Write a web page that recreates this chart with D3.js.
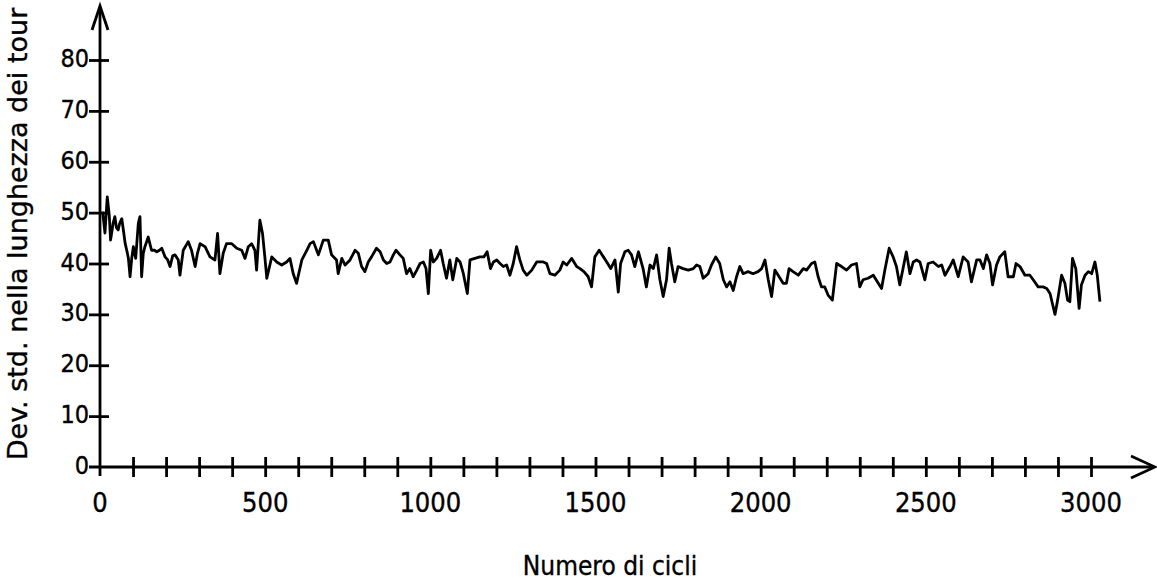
<!DOCTYPE html>
<html>
<head>
<meta charset="utf-8">
<script src="https://cdn.jsdelivr.net/npm/d3@7"></script>
<style>
  html, body { margin: 0; padding: 0; background: #fff; }
  svg { display: block; }
  .lbl { font-family: "Liberation Sans Narrow", "DejaVu Sans Condensed", "Liberation Sans", sans-serif; fill: #000; stroke: #000; stroke-width: 0.35; }
  .ytitle { font-family: "DejaVu Sans", sans-serif; fill: #000; stroke: #000; stroke-width: 0.35; }
</style>
</head>
<body>
<svg id="chart" width="1157" height="583"></svg>
<script>
// ---- data ----
const cycles = [
  8, 15, 22, 28, 32, 40, 45, 50, 55, 60, 66, 72, 76, 82, 86, 91, 96, 101, 108, 116,
  121, 126, 131, 136, 146, 156, 165, 172, 180, 187, 197, 205, 212, 220, 227, 237, 242, 252, 260, 267,
  277, 288, 295, 303, 318, 333, 348, 356, 363, 373, 383, 399, 414, 429, 439, 449, 459, 469, 474, 484,
  492, 499, 505, 520, 535, 550, 565, 575, 585, 595, 611, 626, 636, 646, 661, 676, 691, 701, 716, 721,
  732, 742, 757, 772, 782, 792, 802, 812, 822, 837, 848, 858, 868, 878, 888, 896, 908, 918, 928, 938,
  948, 959, 969, 979, 987, 994, 1001, 1009, 1019, 1031, 1039, 1049, 1059, 1068, 1080, 1090, 1100, 1112, 1120, 1135,
  1150, 1162, 1172, 1182, 1191, 1201, 1211, 1221, 1231, 1241, 1251, 1261, 1271, 1281, 1292, 1307, 1322, 1342, 1352, 1362,
  1377, 1392, 1402, 1413, 1428, 1443, 1453, 1465, 1478, 1488, 1498, 1511, 1524, 1534, 1546, 1559, 1569, 1576, 1589, 1599,
  1609, 1619, 1630, 1644, 1654, 1665, 1675, 1685, 1695, 1705, 1715, 1723, 1730, 1740, 1750, 1765, 1781, 1796, 1806, 1816,
  1826, 1841, 1851, 1864, 1876, 1887, 1897, 1907, 1917, 1927, 1937, 1947, 1962, 1977, 1992, 2003, 2013, 2023, 2033, 2043,
  2053, 2068, 2078, 2086, 2098, 2114, 2129, 2139, 2154, 2164, 2174, 2184, 2194, 2204, 2217, 2230, 2245, 2260, 2275, 2290,
  2300, 2310, 2325, 2341, 2356, 2366, 2376, 2389, 2401, 2411, 2421, 2431, 2441, 2452, 2462, 2472, 2482, 2497, 2507, 2522,
  2538, 2548, 2558, 2573, 2583, 2598, 2613, 2628, 2638, 2654, 2664, 2674, 2684, 2694, 2702, 2714, 2724, 2739, 2749, 2765,
  2773, 2785, 2800, 2815, 2825, 2840, 2855, 2866, 2876, 2884, 2891, 2899, 2911, 2921, 2929, 2936, 2944, 2954, 2964, 2971,
  2982, 2992, 3002, 3012, 3019, 3027
];
const stdDev = [
  50.2, 46.0, 53.1, 49.5, 44.6, 48.0, 49.2, 47.0, 46.6, 48.0, 48.8, 46.0, 44.0, 42.3, 41.0, 37.4, 41.0, 43.3, 41.0, 47.9,
  49.2, 37.4, 42.0, 43.3, 45.2, 42.6, 42.6, 42.3, 42.6, 43.0, 41.3, 40.7, 39.4, 41.5, 41.7, 40.7, 37.7, 42.6, 43.5, 44.3,
  42.6, 39.4, 42.0, 43.9, 43.3, 41.3, 40.7, 45.9, 38.0, 42.0, 43.9, 43.9, 43.0, 42.6, 41.0, 43.3, 43.9, 42.6, 38.7, 48.5,
  45.9, 41.3, 37.1, 41.3, 40.3, 39.7, 40.3, 41.0, 38.0, 36.1, 40.7, 42.6, 43.9, 44.3, 41.7, 44.6, 44.6, 41.7, 40.7, 38.0,
  41.0, 39.7, 40.7, 42.6, 42.0, 39.4, 38.4, 40.3, 41.3, 43.0, 42.3, 40.7, 40.0, 40.3, 41.7, 42.6, 41.7, 41.0, 38.0, 39.0,
  37.4, 38.7, 40.0, 40.3, 39.0, 34.1, 42.6, 40.3, 41.0, 42.6, 40.0, 37.1, 40.7, 36.8, 41.0, 40.3, 38.0, 34.1, 40.7, 41.0,
  41.3, 41.3, 42.3, 39.0, 40.3, 40.7, 40.0, 39.4, 39.7, 37.7, 40.0, 43.3, 40.7, 38.7, 37.7, 38.7, 40.3, 40.3, 40.0, 38.0,
  37.7, 38.7, 40.3, 39.7, 41.0, 39.4, 39.0, 38.4, 37.4, 35.4, 41.3, 42.6, 41.3, 40.3, 39.0, 40.7, 34.4, 40.0, 42.3, 42.6,
  41.7, 39.4, 42.3, 39.0, 35.4, 39.7, 39.0, 41.7, 36.8, 33.5, 36.8, 43.0, 40.0, 36.4, 39.4, 39.0, 38.7, 39.0, 39.7, 39.4,
  37.1, 38.0, 39.7, 41.3, 40.0, 36.8, 35.4, 36.4, 34.7, 37.4, 39.4, 38.0, 38.4, 38.0, 38.4, 39.0, 40.7, 36.8, 33.5, 38.7,
  37.7, 36.1, 36.1, 39.0, 38.4, 37.7, 39.0, 38.7, 40.0, 40.3, 37.4, 35.4, 35.4, 33.8, 32.8, 40.0, 39.4, 38.7, 39.7, 40.0,
  35.4, 36.8, 37.1, 37.7, 36.1, 35.1, 38.7, 43.0, 41.3, 39.4, 35.8, 39.0, 42.3, 38.0, 40.3, 40.7, 40.3, 36.8, 40.0, 40.3,
  39.4, 39.7, 37.7, 39.4, 40.7, 37.4, 41.3, 40.3, 36.4, 40.7, 40.7, 39.0, 41.7, 40.0, 35.8, 39.7, 41.3, 42.3, 37.4, 37.4,
  40.0, 39.4, 37.7, 37.7, 36.8, 35.4, 35.4, 35.1, 34.1, 31.9, 30.0, 32.8, 37.7, 36.1, 32.8, 32.5, 41.0, 39.0, 31.2, 35.8,
  37.7, 38.4, 38.0, 40.3, 37.7, 32.5
];
const xTickLabels = [0, 500, 1000, 1500, 2000, 2500, 3000];
const yTickLabels = [0, 10, 20, 30, 40, 50, 60, 70, 80];
const xMinorTicks = d3.range(0, 3001, 100);
const xTitle = "Numero di cicli";
const yTitle = "Dev. std. nella lunghezza dei tour";

// ---- layout ----
const svg = d3.select("#chart");
const x = d3.scaleLinear().domain([0, 3000]).range([100, 1091]);
const y = d3.scaleLinear().domain([0, 80]).range([467, 60]);
const axisW = 2.8;

// x axis line with arrow
svg.append("line").attr("x1", 89).attr("x2", 1153).attr("y1", y(0)).attr("y2", y(0))
  .attr("stroke", "#000").attr("stroke-width", axisW);
svg.append("path").attr("d", `M1131,${y(0) - 11} L1155,${y(0)} L1131,${y(0) + 11}`)
  .attr("fill", "none").attr("stroke", "#000").attr("stroke-width", axisW).attr("stroke-linejoin", "miter");

// y axis line with arrow
svg.append("line").attr("x1", x(0)).attr("x2", x(0)).attr("y1", 476).attr("y2", 7)
  .attr("stroke", "#000").attr("stroke-width", axisW);
svg.append("path").attr("d", `M${x(0) - 8},30 L${x(0)},6 L${x(0) + 8},30`)
  .attr("fill", "none").attr("stroke", "#000").attr("stroke-width", axisW);

// x ticks
const xAxisG = svg.append("g").attr("transform", `translate(0,${y(0)})`)
  .call(d3.axisBottom(x).tickValues(xMinorTicks).tickSize(10).tickSizeOuter(0).tickFormat(""));
xAxisG.select(".domain").remove();
xAxisG.selectAll(".tick line").attr("y1", -10).attr("y2", 10).attr("stroke", "#000").attr("stroke-width", axisW);
xAxisG.selectAll(".tick").filter(d => d === 0).remove();

// x labels
svg.append("g").selectAll("text").data(xTickLabels).join("text")
  .attr("class", "lbl")
  .attr("x", d => x(d)).attr("y", 512)
  .attr("text-anchor", "middle").attr("font-size", 27)
  .text(d => d);

// y ticks
const yAxisG = svg.append("g").attr("transform", `translate(${x(0)},0)`)
  .call(d3.axisLeft(y).tickValues(yTickLabels.filter(d => d > 0)).tickSize(10).tickSizeOuter(0).tickFormat(""));
yAxisG.select(".domain").remove();
yAxisG.selectAll(".tick line").attr("x1", -11).attr("x2", 9).attr("stroke", "#000").attr("stroke-width", axisW);

// y labels
svg.append("g").selectAll("text").data(yTickLabels).join("text")
  .attr("class", "lbl")
  .attr("x", 89).attr("y", d => y(d) + 7)
  .attr("text-anchor", "end").attr("font-size", 25)
  .text(d => d);

// titles
svg.append("text").attr("class", "lbl")
  .attr("x", 610).attr("y", 575).attr("text-anchor", "middle").attr("font-size", 26)
  .text(xTitle);
svg.append("text").attr("class", "ytitle")
  .attr("transform", "translate(27,234) rotate(-90)")
  .attr("text-anchor", "middle").attr("font-size", 27)
  .text(yTitle);

// data line
const pts = cycles.map((c, i) => [c, stdDev[i]]);
svg.append("path").datum(pts)
  .attr("fill", "none").attr("stroke", "#000").attr("stroke-width", 2.8)
  .attr("stroke-linejoin", "round")
  .attr("d", d3.line().x(d => x(d[0])).y(d => y(d[1])));
</script>
</body>
</html>
